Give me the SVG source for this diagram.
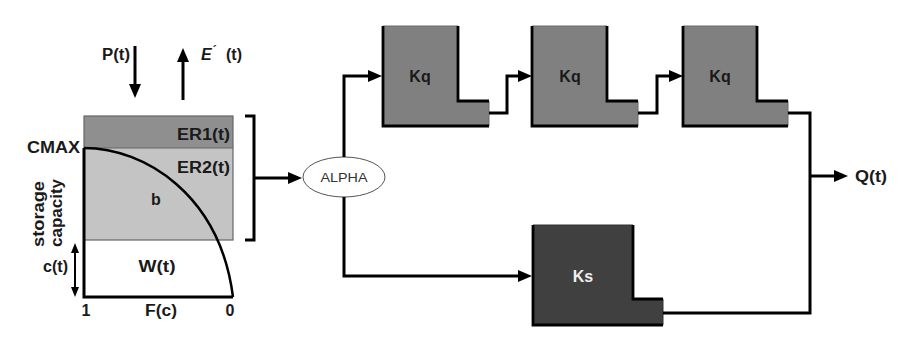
<svg xmlns="http://www.w3.org/2000/svg" width="899" height="351" viewBox="0 0 899 351">
<defs>
<style>
.t{font-family:"Liberation Sans",Arial,sans-serif;font-weight:bold;font-size:16px;fill:#1a1a1a}
.w{fill:#eeeeee}
.al{font-family:"Liberation Sans",Arial,sans-serif;font-size:12px;fill:#333}
.ln{fill:none;stroke:#000;stroke-width:3;stroke-linejoin:miter}
.edge{fill:none;stroke:#000;stroke-width:2.8}
.kq{fill:#808080;stroke:#6a6a6a;stroke-width:1}
.ks{fill:#404040;stroke:#333;stroke-width:1}
</style>
<marker id="ah" viewBox="0 0 14 12" markerWidth="14" markerHeight="12" refX="8" refY="6" orient="auto" markerUnits="userSpaceOnUse">
<path d="M0,0 L14,6 L0,12 z" fill="#000"/>
</marker>
<marker id="as" viewBox="0 0 10 8" markerWidth="10" markerHeight="8" refX="5" refY="4" orient="auto-start-reverse" markerUnits="userSpaceOnUse">
<path d="M0,0 L10,4 L0,8 z" fill="#000"/>
</marker>
</defs>
<rect width="899" height="351" fill="#fff"/>

<g id="storage">
<rect x="84" y="116" width="149" height="32" fill="#8f8f8f"/>
<rect x="84" y="148" width="149" height="92" fill="#c4c4c4"/>
<rect x="84" y="116" width="149" height="124" fill="none" stroke="#666" stroke-width="1.2"/>
<line x1="84" y1="148" x2="233" y2="148" stroke="#666" stroke-width="1.2"/>
<path d="M84,148 V297 H233" class="ln"/>
<path d="M84,148 C145,148 220,195 233,297" fill="none" stroke="#000" stroke-width="2.5"/>
<text class="t" x="230" y="140" text-anchor="end" textLength="53" lengthAdjust="spacingAndGlyphs">ER1(t)</text>
<text class="t" x="230" y="173" text-anchor="end" textLength="53" lengthAdjust="spacingAndGlyphs">ER2(t)</text>
<text class="t" x="156" y="205" text-anchor="middle" font-size="19" font-weight="normal">b</text>
<text class="t" x="157" y="272" text-anchor="middle" textLength="37" lengthAdjust="spacingAndGlyphs" font-weight="normal" font-size="17">W(t)</text>
<text class="t" x="27" y="153" textLength="53" lengthAdjust="spacingAndGlyphs">CMAX</text>
<text class="t" transform="translate(44,214) rotate(-90)" text-anchor="middle" textLength="66" lengthAdjust="spacingAndGlyphs">storage</text>
<text class="t" transform="translate(62,213) rotate(-90)" text-anchor="middle" textLength="68" lengthAdjust="spacingAndGlyphs">capacity</text>
<text class="t" x="43" y="272" textLength="25" lengthAdjust="spacingAndGlyphs">c(t)</text>
<text class="t" x="86" y="316" text-anchor="middle">1</text>
<text class="t" x="161" y="316" text-anchor="middle" textLength="32" lengthAdjust="spacingAndGlyphs">F(c)</text>
<text class="t" x="230" y="316" text-anchor="middle">0</text>
<text class="t" x="102" y="60" textLength="28" lengthAdjust="spacingAndGlyphs">P(t)</text>
<text class="t" x="201" y="60"><tspan font-style="italic">E</tspan><tspan font-size="12" dx="1" dy="-5">´</tspan><tspan dy="5" x="226">(t)</tspan></text>
</g>

<g id="alpha">
<ellipse cx="344" cy="177" rx="41" ry="20" fill="#fff" stroke="#555" stroke-width="1"/>
<text class="al" x="344" y="182" text-anchor="middle" textLength="47" lengthAdjust="spacingAndGlyphs">ALPHA</text>
</g>

<g id="kq1">
<polygon class="kq" points="383,26 458,26 458,101 489,101 489,126 383,126"/>
<path class="edge" d="M383,26 V126 H489 M458,26 V101 H489"/>
<text class="t" x="420" y="82" text-anchor="middle">Kq</text>
</g>
<g id="kq2">
<polygon class="kq" points="532,26 607,26 607,101 638,101 638,126 532,126"/>
<path class="edge" d="M532,26 V126 H638 M607,26 V101 H638"/>
<text class="t" x="570" y="82" text-anchor="middle">Kq</text>
</g>
<g id="kq3">
<polygon class="kq" points="683,26 757,26 757,101 788,101 788,126 683,126"/>
<path class="edge" d="M683,26 V126 H788 M757,26 V101 H788"/>
<text class="t" x="720" y="82" text-anchor="middle">Kq</text>
</g>
<g id="ks">
<polygon class="ks" points="533,225 633,225 633,299 663,299 663,325 533,325"/>
<path class="edge" d="M533,225 V325 H663 M633,225 V299 H663"/>
<text class="t w" x="583" y="282" text-anchor="middle">Ks</text>
</g>
<g id="output">
<text class="t" x="855" y="182" textLength="32" lengthAdjust="spacingAndGlyphs">Q(t)</text>
</g>

<g id="connectors">
<path class="ln" d="M135,46 V92" marker-end="url(#ah)"/>
<path class="ln" d="M183,100 V54" marker-end="url(#ah)"/>
<path d="M75,248 V292" fill="none" stroke="#000" stroke-width="2" marker-start="url(#as)" marker-end="url(#as)"/>
<path class="ln" d="M245,116 H254 V240 H245"/>
<path class="ln" d="M254,178 H296" marker-end="url(#ah)"/>
<path class="ln" d="M344,157 V76 H376" marker-end="url(#ah)"/>
<path class="ln" d="M344,197 V276 H526" marker-end="url(#ah)"/>
<path class="ln" d="M489,113 H507 V76 H526" marker-end="url(#ah)"/>
<path class="ln" d="M638,113 H657 V76 H677" marker-end="url(#ah)"/>
<path class="ln" d="M788,113 H810 V313 H663" stroke-width="2.5"/>
<path class="ln" d="M810,176 H842" stroke-width="2.5" marker-end="url(#ah)"/>
</g>
</svg>
